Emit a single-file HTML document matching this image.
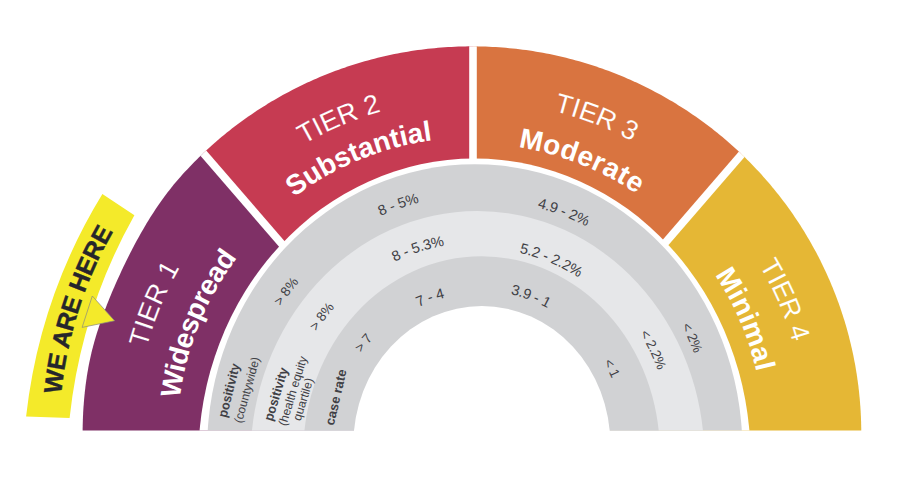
<!DOCTYPE html>
<html><head><meta charset="utf-8"><style>html,body{margin:0;padding:0;background:#fff;width:904px;height:500px;overflow:hidden}svg{display:block}</style></head><body>
<svg width="904" height="500" viewBox="0 0 904 500"><defs><clipPath id="cb"><rect x="0" y="0" width="904" height="430.4"/></clipPath><clipPath id="co"><path d="M855.35,500.42 L855.92,497.10 L856.47,493.76 L856.98,490.43 L857.47,487.08 L857.93,483.74 L858.36,480.39 L858.76,477.04 L859.13,473.68 L859.47,470.32 L859.78,466.96 L860.06,463.60 L860.31,460.23 L860.53,456.86 L860.73,453.49 L860.89,450.12 L861.02,446.74 L861.13,443.37 L861.20,439.99 L861.25,436.62 L861.26,433.24 L861.25,429.86 L861.20,426.49 L861.13,423.11 L861.02,419.74 L860.89,416.36 L860.73,412.99 L860.53,409.62 L860.31,406.25 L860.06,402.88 L859.78,399.52 L859.47,396.16 L859.13,392.80 L858.76,389.44 L858.36,386.09 L857.93,382.74 L857.47,379.40 L856.98,376.05 L856.47,372.72 L855.92,369.38 L855.35,366.06 L854.74,362.73 L854.11,359.42 L853.44,356.11 L852.75,352.80 L852.03,349.50 L851.28,346.21 L850.50,342.92 L849.70,339.64 L848.86,336.37 L847.99,333.11 L847.10,329.85 L846.18,326.60 L845.23,323.36 L844.25,320.12 L843.24,316.90 L842.21,313.68 L841.14,310.48 L840.05,307.28 L838.93,304.09 L837.78,300.92 L836.61,297.75 L835.40,294.59 L834.17,291.44 L832.91,288.31 L831.62,285.18 L830.31,282.07 L828.97,278.97 L827.60,275.88 L826.21,272.80 L824.78,269.73 L823.33,266.68 L821.86,263.64 L820.36,260.61 L818.83,257.60 L817.27,254.59 L815.69,251.61 L814.08,248.63 L812.45,245.67 L810.79,242.73 L809.10,239.80 L807.39,236.88 L805.65,233.98 L803.89,231.09 L802.10,228.22 L800.29,225.36 L798.45,222.52 L796.59,219.70 L794.70,216.89 L792.79,214.10 L790.85,211.33 L788.89,208.57 L786.91,205.83 L784.90,203.11 L782.86,200.40 L780.81,197.72 L778.73,195.05 L776.63,192.40 L774.50,189.76 L772.35,187.15 L770.18,184.55 L767.98,181.98 L765.76,179.42 L763.52,176.88 L761.26,174.36 L758.98,171.86 L756.67,169.38 L754.34,166.92 L751.99,164.48 L749.62,162.07 L747.23,159.67 L744.82,157.29 L742.38,154.93 L739.93,152.60 L737.46,150.29 L734.96,147.99 L732.45,145.72 L729.91,143.48 L727.36,141.25 L724.78,139.05 L722.19,136.87 L719.58,134.71 L716.95,132.57 L714.30,130.46 L711.63,128.37 L708.94,126.30 L706.24,124.26 L703.52,122.24 L700.78,120.24 L698.02,118.27 L695.24,116.32 L692.45,114.39 L689.64,112.49 L686.82,110.62 L683.98,108.77 L681.12,106.94 L678.25,105.14 L675.36,103.36 L672.45,101.61 L669.53,99.88 L666.60,98.18 L663.65,96.51 L660.69,94.86 L657.71,93.23 L654.71,91.64 L651.71,90.06 L648.69,88.52 L645.65,87.00 L642.61,85.51 L639.55,84.04 L636.47,82.60 L633.39,81.19 L630.29,79.80 L627.18,78.44 L624.06,77.11 L620.93,75.80 L617.78,74.52 L614.63,73.27 L611.46,72.05 L608.28,70.85 L605.10,69.68 L601.90,68.54 L598.69,67.43 L595.47,66.34 L592.25,65.29 L589.01,64.26 L585.77,63.26 L582.51,62.28 L579.25,61.34 L575.98,60.42 L572.70,59.53 L569.42,58.67 L566.13,57.84 L562.82,57.04 L559.52,56.27 L556.20,55.52 L552.88,54.80 L549.56,54.12 L546.23,53.46 L542.89,52.83 L539.54,52.23 L536.20,51.66 L532.84,51.11 L529.49,50.60 L526.12,50.12 L522.76,49.66 L519.39,49.23 L516.01,48.84 L512.64,48.47 L509.25,48.13 L505.87,47.82 L502.49,47.54 L499.10,47.29 L495.71,47.07 L492.32,46.88 L488.92,46.72 L485.53,46.59 L482.13,46.48 L478.73,46.41 L475.34,46.36 L471.94,46.35 L468.54,46.36 L465.15,46.41 L461.75,46.48 L458.35,46.59 L454.96,46.72 L451.56,46.88 L448.17,47.07 L444.78,47.29 L441.39,47.54 L438.01,47.82 L434.63,48.13 L431.24,48.47 L427.87,48.84 L424.49,49.23 L421.12,49.66 L417.76,50.12 L414.39,50.60 L411.04,51.11 L407.68,51.66 L404.34,52.23 L400.99,52.83 L397.65,53.46 L394.32,54.12 L391.00,54.80 L387.68,55.52 L384.36,56.27 L381.06,57.04 L377.75,57.84 L374.46,58.67 L371.18,59.53 L367.90,60.42 L364.63,61.34 L361.37,62.28 L358.11,63.26 L354.87,64.26 L351.63,65.29 L348.41,66.34 L345.19,67.43 L341.98,68.54 L338.78,69.68 L335.60,70.85 L332.42,72.05 L329.25,73.27 L326.10,74.52 L322.95,75.80 L319.82,77.11 L316.70,78.44 L313.59,79.80 L310.49,81.19 L307.41,82.60 L304.33,84.04 L301.27,85.51 L298.23,87.00 L295.19,88.52 L292.17,90.06 L289.17,91.64 L286.17,93.23 L283.19,94.86 L280.23,96.51 L277.28,98.18 L274.35,99.88 L271.43,101.61 L268.52,103.36 L265.63,105.14 L262.76,106.94 L259.90,108.77 L257.06,110.62 L254.24,112.49 L251.43,114.39 L248.64,116.32 L245.86,118.27 L243.10,120.24 L240.36,122.24 L237.64,124.26 L234.94,126.30 L232.25,128.37 L229.58,130.46 L226.93,132.57 L224.30,134.71 L221.69,136.87 L219.10,139.05 L216.52,141.25 L213.97,143.48 L211.43,145.72 L208.92,147.99 L206.42,150.29 L203.95,152.60 L201.50,154.93 L199.06,157.29 L196.65,159.67 L194.26,162.07 L191.89,164.48 L189.54,166.92 L187.21,169.38 L184.90,171.86 L182.62,174.36 L180.36,176.88 L178.13,179.43 L175.94,182.01 L173.77,184.61 L171.64,187.24 L169.54,189.89 L167.47,192.56 L165.43,195.26 L163.42,197.98 L161.44,200.73 L159.50,203.49 L157.58,206.27 L155.69,209.07 L153.83,211.89 L152.00,214.72 L150.20,217.58 L148.42,220.44 L146.67,223.32 L144.94,226.22 L143.24,229.13 L141.56,232.05 L139.90,234.98 L138.27,237.92 L136.66,240.87 L135.06,243.83 L133.49,246.80 L131.94,249.78 L130.40,252.77 L128.88,255.77 L127.38,258.77 L125.90,261.79 L124.43,264.81 L122.98,267.83 L121.55,270.87 L120.13,273.91 L118.73,276.96 L117.34,280.02 L115.97,283.08 L114.62,286.16 L113.29,289.24 L111.97,292.33 L110.67,295.43 L109.39,298.54 L108.13,301.65 L106.89,304.78 L105.68,307.91 L104.48,311.06 L103.31,314.21 L102.16,317.38 L101.04,320.55 L99.95,323.74 L98.88,326.93 L97.84,330.14 L96.83,333.36 L95.86,336.59 L94.91,339.82 L94.00,343.07 L93.12,346.33 L92.28,349.60 L91.47,352.87 L90.70,356.16 L89.97,359.46 L89.28,362.76 L88.62,366.07 L88.01,369.39 L87.44,372.72 L86.90,376.05 L86.41,379.40 L85.95,382.74 L85.52,386.09 L85.12,389.44 L84.75,392.80 L84.41,396.16 L84.10,399.52 L83.82,402.88 L83.57,406.25 L83.35,409.62 L83.15,412.99 L82.99,416.36 L82.86,419.74 L82.75,423.11 L82.68,426.49 L82.63,429.86 L82.62,433.24 L82.63,436.62 L82.68,439.99 L82.75,443.37 L82.86,446.74 L82.99,450.12 L83.15,453.49 L83.35,456.86 L83.57,460.23 L83.82,463.60 L84.10,466.96 L84.41,470.32 L84.75,473.68 L85.12,477.04 L85.52,480.39 L85.95,483.74 L86.41,487.08 L86.90,490.43 L87.41,493.76 L87.96,497.10 L88.53,500.42Z"/></clipPath><path id="p1" d="M309.82,826.10 A422.851536007744,422.851536007744 0 0 1 565.96,23.49"/><path id="p2" d="M312.36,743.74 A347.1489017698313,347.1489017698313 0 0 1 577.76,105.04"/><path id="p3" d="M333.34,707.84 A305.61562249822094,305.61562249822094 0 0 1 563.33,144.04"/><path id="p4" d="M143.67,542.40 A346.0889047629236,346.0889047629236 0 0 1 778.85,274.03"/><path id="p5" d="M178.30,527.51 A308.5802555059131,308.5802555059131 0 0 1 747.33,294.71"/><path id="p6" d="M164.57,284.04 A343.8320811093694,343.8320811093694 0 0 1 803.13,532.09"/><path id="p7" d="M202.84,300.60 A302.19619380535363,302.19619380535363 0 0 1 762.57,522.43"/><path id="p8" d="M364.10,111.55 A342.23319535077246,342.23319535077246 0 0 1 636.58,736.61"/><path id="p9" d="M379.50,150.29 A300.6226559115133,300.6226559115133 0 0 1 614.69,701.14"/><path id="p10" d="M240.72,494.45 A244.61694544736673,244.61694544736673 0 0 1 701.36,335.25"/><path id="p11" d="M285.63,479.00 A197.3352477384616,197.3352477384616 0 0 1 659.80,358.26"/><path id="p12" d="M336.34,470.79 A146.10954794263105,146.10954794263105 0 0 1 611.29,375.16"/><path id="p13" d="M262.33,329.58 A240.0568551621141,240.0568551621141 0 0 1 708.70,501.36"/><path id="p14" d="M308.12,345.86 A191.84629264074925,191.84629264074925 0 0 1 660.78,493.29"/><path id="p15" d="M343.37,369.82 A149.58034630258084,149.58034630258084 0 0 1 621.90,475.81"/><path id="p16" d="M317.77,614.22 A240.4001871879471,240.4001871879471 0 0 1 604.67,230.68"/><path id="p17" d="M345.89,580.84 A196.78274822758218,196.78274822758218 0 0 1 582.78,268.43"/><path id="p18" d="M375.83,541.50 A147.58472143145443,147.58472143145443 0 0 1 560.13,312.38"/><path id="p19" d="M399.60,212.42 A235.98360112516292,235.98360112516292 0 0 1 593.86,640.58"/><path id="p20" d="M407.89,251.89 A196.0697069921817,196.0697069921817 0 0 1 578.84,603.15"/><path id="p21" d="M422.87,295.26 A150.21907335621532,150.21907335621532 0 0 1 556.56,563.04"/></defs><g font-family="&quot;Liberation Sans&quot;, sans-serif"><g clip-path="url(#cb)"><g clip-path="url(#co)"><polygon points="-500.00,-500.00 -34.70,-122.20 677.20,701.30 -500.00,1000.00" fill="#7f3066"/><polygon points="-34.70,-122.20 473.00,-900.00 473.00,1000.00 677.20,701.30" fill="#c63b52"/><polygon points="473.00,-900.00 971.60,-111.80 285.80,682.00 473.00,1000.00" fill="#d97440"/><polygon points="971.60,-111.80 1400.00,-900.00 1400.00,1000.00 285.80,682.00" fill="#e5b735"/><line x1="-34.70" y1="-122.20" x2="677.20" y2="701.30" stroke="#fff" stroke-width="7.8"/><line x1="473.00" y1="0.00" x2="473.00" y2="500.00" stroke="#fff" stroke-width="7.6"/><line x1="971.60" y1="-111.80" x2="285.80" y2="682.00" stroke="#fff" stroke-width="7.8"/></g><ellipse cx="474.48" cy="458.38" rx="276.12" ry="299.79" fill="#fff"/><ellipse cx="474.75" cy="448.85" rx="267.6" ry="284.67" fill="#d1d2d4"/><ellipse cx="477.43" cy="458.3" rx="226.94" ry="247.26" fill="#e6e7e9"/><ellipse cx="481.57" cy="452.44" rx="178.22" ry="196.13" fill="#d1d2d4"/></g><ellipse cx="481.85" cy="444.63" rx="128.52" ry="138.62" fill="#fff"/><path d="M102.40,194.10 A540,540 0 0 0 26.10,416.50 L69.60,417.90 A530,530 0 0 1 134.40,215.20 Z" fill="#f4ea2a"/><polygon points="92.3,296 114.6,320.8 82.1,327.4" fill="#f4ea2a" stroke="#8a8a80" stroke-width="0.7"/><text font-size="25" font-weight="bold" fill="#26262b" letter-spacing="0" stroke="#26262b" stroke-width="0.4" dominant-baseline="central"><textPath href="#p1" startOffset="50%" text-anchor="middle">WE ARE HERE</textPath></text><text font-size="27" font-weight="normal" fill="#fff" letter-spacing="1" stroke="#7f3066" stroke-width="0.12" dominant-baseline="central"><textPath href="#p2" startOffset="50%" text-anchor="middle">TIER 1</textPath></text><text font-size="28" font-weight="bold" fill="#fff" letter-spacing="0"  dominant-baseline="central"><textPath href="#p3" startOffset="50%" text-anchor="middle">Widespread</textPath></text><text font-size="27" font-weight="normal" fill="#fff" letter-spacing="0.5" stroke="#c63b52" stroke-width="0.12" dominant-baseline="central"><textPath href="#p4" startOffset="50%" text-anchor="middle">TIER 2</textPath></text><text font-size="28" font-weight="bold" fill="#fff" letter-spacing="0.5"  dominant-baseline="central"><textPath href="#p5" startOffset="50%" text-anchor="middle">Substantial</textPath></text><text font-size="27" font-weight="normal" fill="#fff" letter-spacing="0.5" stroke="#d97440" stroke-width="0.12" dominant-baseline="central"><textPath href="#p6" startOffset="50%" text-anchor="middle">TIER 3</textPath></text><text font-size="28" font-weight="bold" fill="#fff" letter-spacing="1.1"  dominant-baseline="central"><textPath href="#p7" startOffset="50%" text-anchor="middle">Moderate</textPath></text><text font-size="27" font-weight="normal" fill="#fff" letter-spacing="0.5" stroke="#e5b735" stroke-width="0.12" dominant-baseline="central"><textPath href="#p8" startOffset="50%" text-anchor="middle">TIER 4</textPath></text><text font-size="28" font-weight="bold" fill="#fff" letter-spacing="0.8"  dominant-baseline="central"><textPath href="#p9" startOffset="50%" text-anchor="middle">Minimal</textPath></text><text font-size="14.5" font-weight="normal" fill="#404045" letter-spacing="0"  dominant-baseline="central"><textPath href="#p10" startOffset="50%" text-anchor="middle">8 - 5%</textPath></text><text font-size="14.5" font-weight="normal" fill="#404045" letter-spacing="0"  dominant-baseline="central"><textPath href="#p11" startOffset="50%" text-anchor="middle">8 - 5.3%</textPath></text><text font-size="14.5" font-weight="normal" fill="#404045" letter-spacing="0"  dominant-baseline="central"><textPath href="#p12" startOffset="50%" text-anchor="middle">7 - 4</textPath></text><text font-size="14.5" font-weight="normal" fill="#404045" letter-spacing="0"  dominant-baseline="central"><textPath href="#p13" startOffset="50%" text-anchor="middle">4.9 - 2%</textPath></text><text font-size="14.5" font-weight="normal" fill="#404045" letter-spacing="0"  dominant-baseline="central"><textPath href="#p14" startOffset="50%" text-anchor="middle">5.2 - 2.2%</textPath></text><text font-size="14.5" font-weight="normal" fill="#404045" letter-spacing="0"  dominant-baseline="central"><textPath href="#p15" startOffset="50%" text-anchor="middle">3.9 - 1</textPath></text><text font-size="13.5" font-weight="normal" fill="#404045" letter-spacing="0"  dominant-baseline="central"><textPath href="#p16" startOffset="50%" text-anchor="middle">&gt; 8%</textPath></text><text font-size="13.5" font-weight="normal" fill="#404045" letter-spacing="0"  dominant-baseline="central"><textPath href="#p17" startOffset="50%" text-anchor="middle">&gt; 8%</textPath></text><text font-size="13.5" font-weight="normal" fill="#404045" letter-spacing="0"  dominant-baseline="central"><textPath href="#p18" startOffset="50%" text-anchor="middle">&gt; 7</textPath></text><text font-size="13.5" font-weight="normal" fill="#404045" letter-spacing="0"  dominant-baseline="central"><textPath href="#p19" startOffset="50%" text-anchor="middle">&lt; 2%</textPath></text><text font-size="13.5" font-weight="normal" fill="#404045" letter-spacing="0"  dominant-baseline="central"><textPath href="#p20" startOffset="50%" text-anchor="middle">&lt; 2.2%</textPath></text><text font-size="13.5" font-weight="normal" fill="#404045" letter-spacing="0"  dominant-baseline="central"><textPath href="#p21" startOffset="50%" text-anchor="middle">&lt; 1</textPath></text><text transform="translate(228.9,390.4) rotate(-76)" x="0" y="0" font-size="13" font-weight="bold" fill="#404045" text-anchor="middle" dominant-baseline="central" textLength="55" lengthAdjust="spacingAndGlyphs">positivity</text><text transform="translate(246.9,390) rotate(-74.5)" x="0" y="0" font-size="12" font-weight="normal" fill="#404045" text-anchor="middle" dominant-baseline="central" textLength="68" lengthAdjust="spacingAndGlyphs">(countywide)</text><text transform="translate(276,394.1) rotate(-73)" x="0" y="0" font-size="13" font-weight="bold" fill="#404045" text-anchor="middle" dominant-baseline="central" textLength="55" lengthAdjust="spacingAndGlyphs">positivity</text><text transform="translate(292.8,390.9) rotate(-73)" x="0" y="0" font-size="12" font-weight="normal" fill="#404045" text-anchor="middle" dominant-baseline="central" textLength="72" lengthAdjust="spacingAndGlyphs">(health equity</text><text transform="translate(303.2,399.3) rotate(-73)" x="0" y="0" font-size="12" font-weight="normal" fill="#404045" text-anchor="middle" dominant-baseline="central" textLength="44" lengthAdjust="spacingAndGlyphs">quartile)</text><text transform="translate(335.9,397.2) rotate(-77)" x="0" y="0" font-size="13" font-weight="bold" fill="#404045" text-anchor="middle" dominant-baseline="central" textLength="57" lengthAdjust="spacingAndGlyphs">case rate</text></g></svg>
</body></html>
